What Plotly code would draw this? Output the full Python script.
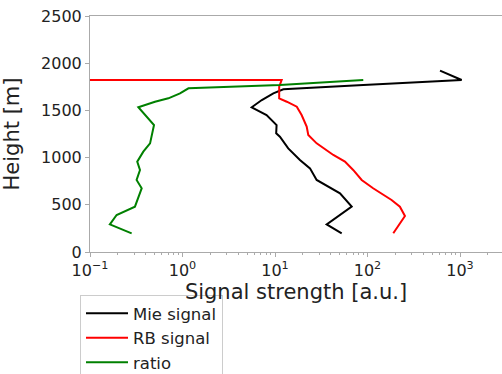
import plotly.graph_objects as go

# Mie signal (black)
mie_height = [198, 293, 480, 621, 763, 886, 975, 1098, 1222, 1257, 1345, 1451, 1533, 1610, 1681, 1723, 1769, 1793, 1822, 1921]
mie_signal = [52.6, 36.2, 67.5, 50.4, 28.2, 23.9, 18.6, 13.9, 11.3, 10.3, 10.4, 8.1, 5.6, 7.2, 9.6, 12.3, 90, 312, 1042, 608]

# RB signal (red)
rb_height = [198, 381, 480, 551, 675, 763, 869, 957, 1028, 1151, 1239, 1328, 1451, 1539, 1592, 1628, 1751, 1822, 1822]
rb_signal = [190, 254, 224, 182, 115, 86.5, 70, 57, 42.7, 28.2, 22.9, 22, 19.4, 17.2, 13.4, 11.1, 11.1, 11.8, 0.001]

# ratio (green)
ratio_height = [198, 293, 392, 480, 675, 763, 869, 957, 1063, 1151, 1345, 1533, 1592, 1628, 1681, 1734, 1769, 1822]
ratio_value = [0.282, 0.164, 0.194, 0.306, 0.362, 0.319, 0.347, 0.324, 0.377, 0.446, 0.492, 0.333, 0.504, 0.703, 0.94, 1.16, 11.3, 90]

x_tickvals = [0.1, 1, 10, 100, 1000]
x_ticktext = ["10<sup>\u22121</sup>", "10<sup>0</sup>", "10<sup>1</sup>", "10<sup>2</sup>", "10<sup>3</sup>"]
y_tickvals = [0, 500, 1000, 1500, 2000, 2500]

fig = go.Figure()
fig.add_trace(go.Scatter(x=mie_signal, y=mie_height, mode="lines", name="Mie signal",
                         line=dict(color="black", width=2)))
fig.add_trace(go.Scatter(x=rb_signal, y=rb_height, mode="lines", name="RB signal",
                         line=dict(color="#ff0000", width=2)))
fig.add_trace(go.Scatter(x=ratio_value, y=ratio_height, mode="lines", name="ratio",
                         line=dict(color="#008000", width=2)))

axis_col = "#aaaaaa"
fig.update_layout(
    width=502, height=374,
    margin=dict(l=90, r=0, t=16, b=122, autoexpand=False),
    paper_bgcolor="white", plot_bgcolor="white",
    font=dict(family="DejaVu Sans", color="#222222", size=16),
    showlegend=True,
    legend=dict(x=(80 - 90) / 412, y=(252 - 295) / 236,
                xanchor="left", yanchor="top", itemwidth=42,
                bordercolor="#cccccc", borderwidth=1, bgcolor="white",
                font=dict(size=16.5, color="#222222"), tracegroupgap=0),
)
fig.update_xaxes(
    type="log", range=[-1, 3.454],
    tickvals=x_tickvals, ticktext=x_ticktext,
    tickfont=dict(size=16),
    ticks="outside", ticklen=4, tickcolor=axis_col,
    minor=dict(ticks="outside", ticklen=2, tickcolor=axis_col, dtick="D1"),
    showline=True, linecolor=axis_col, linewidth=1, mirror=True,
    showgrid=False, zeroline=False,
    title=dict(text="Signal strength [a.u.]", font=dict(size=21), standoff=0),
)
fig.update_yaxes(
    range=[0, 2500], tickvals=y_tickvals,
    tickfont=dict(size=16),
    ticks="outside", ticklen=4, tickcolor=axis_col,
    showline=True, linecolor=axis_col, linewidth=1,
    showgrid=False, zeroline=False,
    title=dict(text="Height [m]", font=dict(size=21)),
)

fig.write_html("out.html")
